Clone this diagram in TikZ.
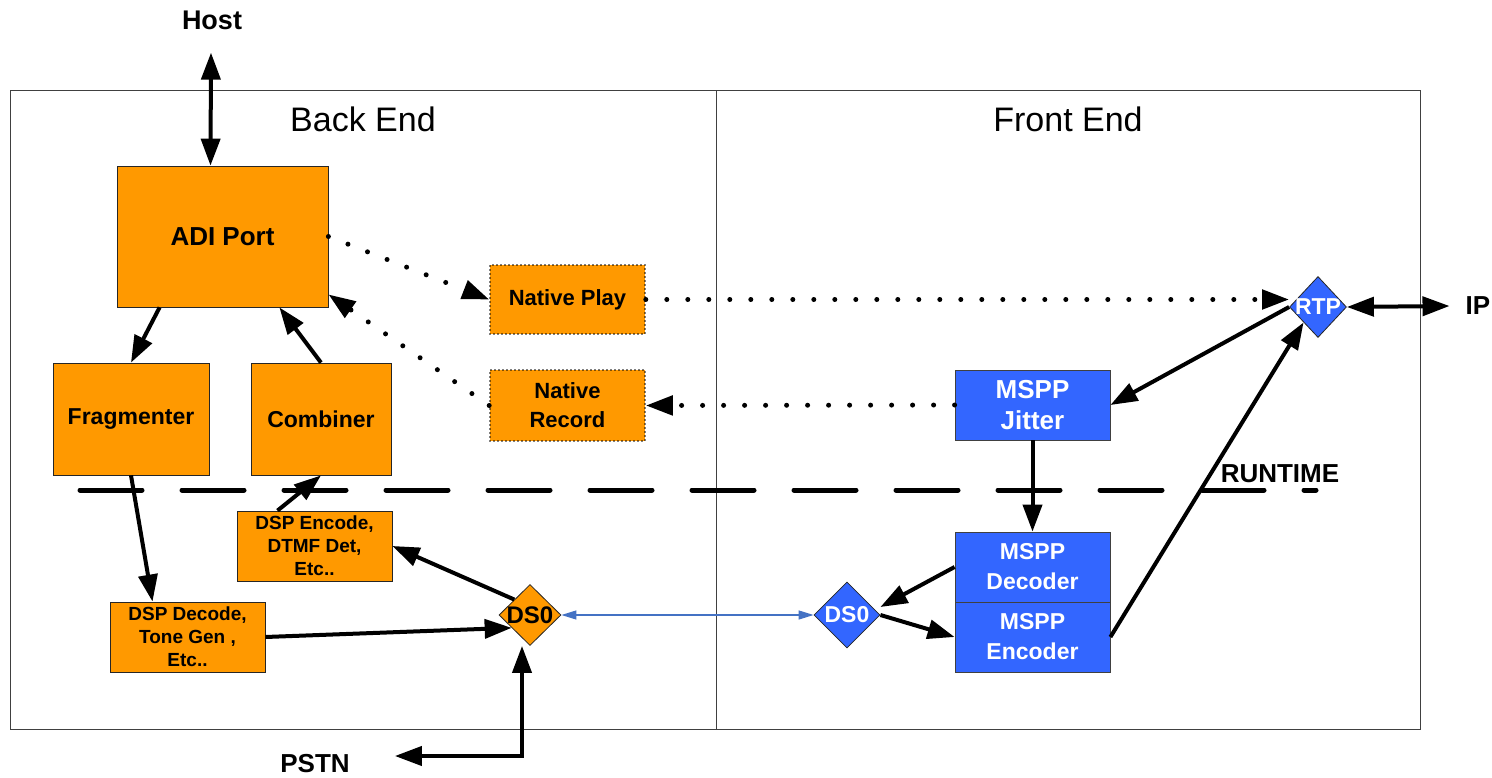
\documentclass[tikz,border=0pt]{standalone}
\usepackage{fontspec}
\setmainfont{Liberation Sans}
\usetikzlibrary{arrows.meta,shapes.geometric}
\definecolor{boxorange}{RGB}{255,153,0}
\definecolor{boxblue}{RGB}{51,102,255}
\definecolor{linkblue}{RGB}{68,114,196}
\def\fsz#1#2{\fontsize{#1}{#2}\selectfont}
\tikzset{
	obox/.style={draw=black!85, line width=0.8pt, fill=boxorange, align=center, inner sep=0pt},
	bbox/.style={draw=black!75, line width=0.8pt, fill=boxblue, text=white, align=center, inner sep=0pt},
	nbox/.style={obox, draw=black, line width=1.6pt, dash pattern=on 0pt off 4pt, line cap=round},
	dmd/.style={diamond, draw=black!85, line width=0.8pt, inner sep=0pt},
	lbl/.style={inner sep=0pt},
	arr/.style={line width=4pt, -{Triangle[length=27pt,width=19pt]}},
	dblarr/.style={line width=4pt, {Triangle[length=27pt,width=19pt]}-{Triangle[length=27pt,width=19pt]}},
	dotarr/.style={line width=5pt, line cap=round, dash pattern=on 0pt off 21pt, -{Triangle[length=27pt,width=19pt]}},
	bluearr/.style={line width=1.2pt, draw=linkblue, {Triangle[length=15pt,width=9pt]}-{Triangle[length=15pt,width=9pt]}}
}

\begin{document}
\begin{tikzpicture}[x=1pt,y=-1pt]
			%%%%% START %%%%%
			\useasboundingbox (0,0) rectangle (1492,778);
			
			\draw[draw=black!75, line width=1pt] (10, 91) rectangle (716, 729);
			\draw[draw=black!75, line width=1pt] (716, 91) rectangle (1420, 729);
			\node[lbl, font=\fsz{34}{40}] (backend) at (363, 119) {Back End};
			\node[lbl, font=\fsz{34}{40}] (frontend) at (1068, 119) {Front End};
			
			\node[lbl, font=\fsz{27}{32}\bfseries] (host) at (212, 20) {Host};
			\node[lbl, font=\fsz{26}{32}\bfseries] (ip) at (1478, 306) {IP};
			\node[lbl, font=\fsz{26}{32}\bfseries] (pstn) at (315, 764) {PSTN};
			\node[lbl, font=\fsz{26}{32}\bfseries] (runtime) at (1280, 474) {RUNTIME};
			
			\draw[line width=5pt, line cap=round, dash pattern=on 62pt off 40pt] (80, 490) -- (1316, 490);
			
			\node[obox, minimum width=211pt, minimum height=141pt, font=\fsz{26}{30}\bfseries] (adi) at (222.5, 236.5) {ADI Port};
			\node[obox, minimum width=156pt, minimum height=112pt, font=\fsz{23}{28}\bfseries] (frag) at (131, 419) {Fragmenter};
			\node[obox, minimum width=140pt, minimum height=112pt, font=\fsz{23}{28}\bfseries] (comb) at (321, 419) {Combiner};
			\node[nbox, minimum width=155pt, minimum height=69pt, font=\fsz{22}{29}\bfseries] (np) at (567.5, 299.5) {Native Play};
			\node[nbox, minimum width=155pt, minimum height=71pt, font=\fsz{22}{29}\bfseries] (nr) at (567.5, 405.5) {Native\\Record};
			\node[obox, minimum width=155pt, minimum height=70pt, font=\fsz{19}{23}\bfseries] (dspenc) at (314.5, 546) {DSP Encode,\\DTMF Det,\\Etc..};
			\node[obox, minimum width=155pt, minimum height=70pt, font=\fsz{19}{23}\bfseries] (dspdec) at (187.5, 637) {DSP Decode,\\Tone Gen ,\\Etc..};
			
			\node[bbox, minimum width=155pt, minimum height=70pt, font=\fsz{26}{31}\bfseries] (jit) at (1032.5, 405) {MSPP\\Jitter};
			\node[bbox, minimum width=155pt, minimum height=70pt, font=\fsz{23}{30}\bfseries] (dec) at (1032.5, 567) {MSPP\\Decoder};
			\node[bbox, minimum width=155pt, minimum height=70pt, font=\fsz{23}{30}\bfseries] (enc) at (1032.5, 637) {MSPP\\Encoder};
			
			\node[dmd, fill=boxorange, minimum width=62pt, minimum height=61pt,
				label={[name=dsLtxt, font=\fsz{24}{28}\bfseries]center:DS0}] (dsL) at (530, 615) {};
			\node[dmd, fill=boxblue, minimum width=66pt, minimum height=66pt,
				label={[name=dsRtxt, text=white, font=\fsz{23}{28}\bfseries]center:DS0}] (dsR) at (847, 615) {};
			\node[dmd, fill=boxblue, minimum width=57pt, minimum height=61pt,
				label={[name=rtptxt, text=white, font=\fsz{23}{28}\bfseries]center:RTP}] (rtp) at (1318, 307) {};
			
			\draw[dblarr] ([xshift=-1pt,yshift=-23pt]host.south) -- ([xshift=-12pt]adi.north);
			\draw[dblarr] (rtp.east) -- ([xshift=-16pt]ip.west);
			\draw[dblarr] ([xshift=-8pt]dsL.south) |- ([xshift=45pt,yshift=8pt]pstn.east);
			
			\draw[dotarr] (adi.east) -- (np.west);
			\draw[dotarr] (nr.west) -- ([yshift=13pt]adi.south east);
			\draw[dotarr] (np.east) -- (np.east -| rtp.west);
			\draw[dotarr] (jit.west) -- (nr.east);
			
			\draw[arr] ([xshift=43pt]adi.south west) -- (frag.north);
			\draw[arr] (comb.north) -- ([xshift=-49pt]adi.south east);
			\draw[arr] (frag.south) -- ([xshift=-35pt]dspdec.north);
			\draw[arr] ([xshift=-37pt]dspenc.north) -- (comb.south);
			\draw[arr] (dsL.north west) -- (dspenc.east);
			\draw[arr] (dspdec.east) -- (dsL.215);
			\draw[bluearr] (dsL.east) -- (dsR.west);
			
			\draw[arr] (rtp.west) -- (jit.east);
			\draw[arr] (enc.east) -- (rtp.south west);
			\draw[arr] (jit.south) -- (dec.north);
			\draw[arr] (dec.west) -- ([yshift=8pt]dsR.east);
			\draw[arr] (dsR.east) -- (enc.west);
			%%%%% END %%%%%
\end{tikzpicture}
\end{document}
